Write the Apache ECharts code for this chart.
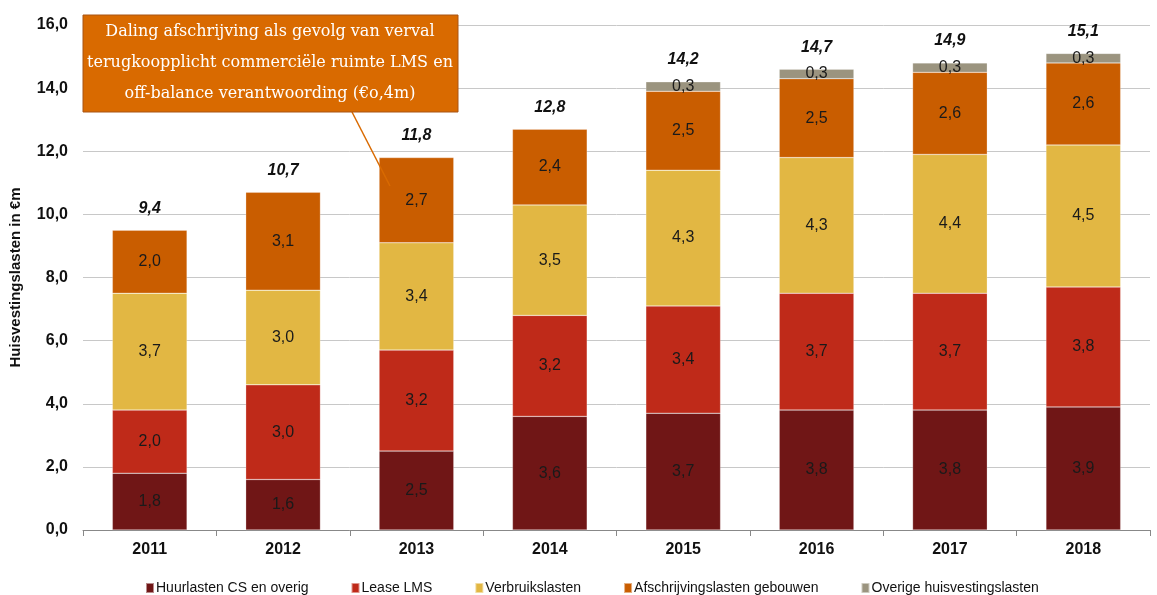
<html>
<head>
    <meta charset="utf-8">
    <title>Huisvestingslasten</title>
    <style>
        * { margin: 0; padding: 0; }
        #chart-container { width: 1157px; height: 595px; background: #fff; }
    </style>
</head>
<body>
<div id="chart-container"></div>
<script src="https://cdn.jsdelivr.net/npm/echarts@6/dist/echarts.min.js"></script>
<script>
    // data
    const years = ['2011', '2012', '2013', '2014', '2015', '2016', '2017', '2018'];
    const huurlasten = [1.8, 1.6, 2.5, 3.6, 3.7, 3.8, 3.8, 3.9];
    const leaseLMS = [2.0, 3.0, 3.2, 3.2, 3.4, 3.7, 3.7, 3.8];
    const verbruik = [3.7, 3.0, 3.4, 3.5, 4.3, 4.3, 4.4, 4.5];
    const afschrijving = [2.0, 3.1, 2.7, 2.4, 2.5, 2.5, 2.6, 2.6];
    const overige = [null, null, null, null, 0.3, 0.3, 0.3, 0.3];
    const totals = [9.4, 10.7, 11.8, 12.8, 14.2, 14.7, 14.9, 15.1];

    const fmt = v => v.toFixed(1).replace('.', ',');

    var dom = document.getElementById('chart-container');
    var myChart = echarts.init(dom, null, { renderer: 'canvas' });

    function seg(name, data, color) {
        return {
            name: name,
            type: 'bar',
            stack: 'total',
            barWidth: '56%',
            data: data,
            itemStyle: { color: color, borderColor: 'rgba(255,255,255,0.5)', borderWidth: 0.5 },
            label: {
                show: true,
                position: 'inside',
                color: '#1a1a1a',
                fontFamily: 'Liberation Sans, Arial, sans-serif',
                fontSize: 16,
                formatter: p => p.value == null ? '' : fmt(p.value)
            }
        };
    }

    var option = {
        animation: false,
        grid: { left: 83, right: 7, top: 25, bottom: 65 },
        legend: {
            top: 576,
            left: 140,
            itemWidth: 8,
            itemHeight: 10,
            itemGap: 42,
            icon: 'rect',
            data: ['Huurlasten CS en overig', 'Lease LMS', 'Verbruikslasten', 'Afschrijvingslasten gebouwen', 'Overige huisvestingslasten'],
            textStyle: {
                fontFamily: 'Liberation Sans Narrow, Arial Narrow, sans-serif',
                fontSize: 14,
                color: '#111',
                padding: [0, 0, 0, -3]
            }
        },
        xAxis: {
            type: 'category',
            data: years,
            axisLine: { lineStyle: { color: '#888' } },
            axisTick: { show: true, length: 6, lineStyle: { color: '#888' } },
            axisLabel: {
                color: '#111',
                fontWeight: 'bold',
                fontSize: 16,
                fontFamily: 'Liberation Sans, Arial, sans-serif',
                margin: 12
            }
        },
        yAxis: {
            type: 'value',
            min: 0,
            max: 16,
            interval: 2,
            name: 'Huisvestingslasten in €m',
            nameLocation: 'middle',
            nameGap: 60,
            nameTextStyle: {
                color: '#111',
                fontWeight: 'bold',
                fontSize: 15,
                fontFamily: 'Liberation Sans, Arial, sans-serif'
            },
            axisLine: { show: false },
            axisTick: { show: false },
            splitLine: { lineStyle: { color: '#c8c8c8', width: 1 } },
            axisLabel: {
                color: '#111',
                fontWeight: 'bold',
                fontSize: 16,
                fontFamily: 'Liberation Sans, Arial, sans-serif',
                margin: 15,
                formatter: v => fmt(v)
            }
        },
        series: [
            seg('Huurlasten CS en overig', huurlasten, '#701616'),
            seg('Lease LMS', leaseLMS, '#bf2a19'),
            seg('Verbruikslasten', verbruik, '#e2b743'),
            seg('Afschrijvingslasten gebouwen', afschrijving, '#c95d00'),
            seg('Overige huisvestingslasten', overige, '#9b947f'),
            {
                name: 'Totaal',
                type: 'bar',
                stack: 'total',
                data: totals.map(() => 0),
                itemStyle: { color: 'transparent' },
                label: {
                    show: true,
                    position: 'top',
                    distance: 14,
                    color: '#111',
                    fontWeight: 'bold',
                    fontStyle: 'italic',
                    fontSize: 16,
                    fontFamily: 'Liberation Sans, Arial, sans-serif',
                    formatter: p => fmt(totals[p.dataIndex])
                }
            }
        ],
        graphic: [
            {
                type: 'line',
                shape: { x1: 352, y1: 112, x2: 390, y2: 186 },
                style: { stroke: '#d96a00', lineWidth: 1.5 },
                z: 100
            },
            {
                type: 'rect',
                shape: { x: 83, y: 15, width: 375, height: 97 },
                style: { fill: '#d96a00', stroke: '#a85414', lineWidth: 1 },
                z: 101
            },
            {
                type: 'text',
                x: 270,
                y: 63,
                z: 102,
                style: {
                    text: 'Daling afschrijving als gevolg van verval\nterugkoopplicht commerciële ruimte LMS en\noff-balance verantwoording (€o,4m)',
                    fill: '#fff',
                    fontFamily: 'DejaVu Serif, Liberation Serif, serif',
                    fontSize: 16,
                    lineHeight: 31,
                    align: 'center',
                    verticalAlign: 'middle'
                }
            }
        ]
    };

    myChart.setOption(option);
    window.addEventListener('resize', myChart.resize);
</script>
</body>
</html>
